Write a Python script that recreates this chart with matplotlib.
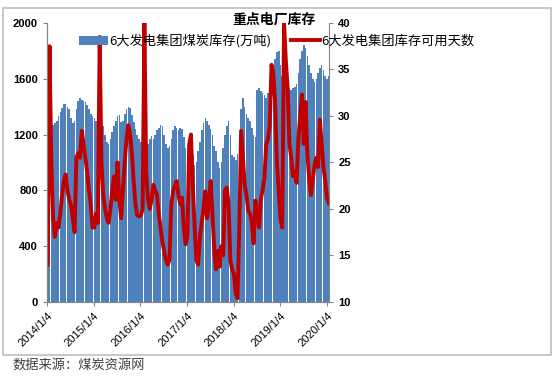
import matplotlib
matplotlib.use("Agg")
import matplotlib.pyplot as plt
import pandas as pd
from matplotlib.patches import Rectangle

plt.rcParams['font.family'] = ['Noto Sans CJK SC', 'DejaVu Sans']

# 6大发电集团煤炭库存(万吨), biweekly from 2014/1/4
stock = [
    1180, 1250, 1260, 1270, 1280, 1300, 1330, 1360, 1390, 1420, 1420, 1400, 1380,
    1320, 1280, 1300, 1380, 1440, 1460, 1450, 1440, 1430, 1410, 1380, 1350, 1330,  # 2014
    1320, 1300, 1330, 1340, 1300, 1260, 1200, 1150, 1130, 1170, 1220, 1260, 1300,
    1330, 1340, 1290, 1300, 1350, 1380, 1400, 1390, 1340, 1290, 1240, 1200, 1170,  # 2015
    1150, 1140, 1120, 1100, 1130, 1170, 1190, 1170, 1200, 1230, 1250, 1270, 1260,
    1200, 1130, 1100, 1120, 1170, 1230, 1260, 1250, 1230, 1250, 1240, 1180, 1100,  # 2016
    1060, 1000, 1150, 1050, 980, 1000, 1080, 1150, 1230, 1280, 1320, 1300, 1270,
    1240, 1200, 1120, 1080, 1000, 960, 1000, 1100, 1200, 1260, 1300, 1200, 1050,  # 2017
    1040, 1020, 1060, 1200, 1380, 1460, 1400, 1350, 1320, 1300, 1250, 1200, 1180,
    1520, 1530, 1510, 1500, 1480, 1460, 1500, 1600, 1650, 1700, 1740, 1790, 1800,  # 2018
    1700, 1620, 1580, 1560, 1550, 1530, 1520, 1530, 1540, 1560, 1640, 1740, 1800,
    1840, 1820, 1760, 1700, 1640, 1600, 1580, 1600, 1640, 1680, 1700, 1660, 1620,  # 2019
    1600, 1620,  # 2020
]

# 6大发电集团库存可用天数
days = [
    14, 37.5, 25, 19, 17, 18.5, 18, 19.5, 21.5, 23, 23.7, 22, 21,
    20.4, 19, 17.5, 25.5, 26, 25.5, 28.4, 27, 25.5, 24, 22, 20.5, 18,  # 2014
    18, 19.5, 18.5, 38.5, 25, 21.5, 20, 19, 18.5, 20, 22, 23.5, 21,
    25, 21, 19, 22, 25, 27.5, 29, 28, 26, 23, 20.5, 19.3, 19.2,  # 2015
    19.3, 20, 40, 24, 21, 20, 21, 22.6, 22, 21.5, 19.5, 18, 16.5,
    15.5, 14.5, 14, 14.5, 20.4, 21.9, 22.5, 23, 21.5, 20.5, 21.2, 18, 16.2,  # 2016
    17, 26.9, 28, 22.6, 18.3, 14.5, 14, 17, 18.5, 20, 21.9, 19, 20.5,
    23, 19.5, 15.8, 13.5, 15.5, 13.8, 16, 15, 22, 22.3, 20.5, 14.5, 13.5,  # 2017
    13, 11, 10.4, 18, 28.4, 25.5, 22.6, 21.5, 19.8, 19.5, 18.5, 16.3, 20.9,
    19.5, 18, 21, 22, 23.3, 26.9, 27.5, 29, 35.5, 34.5, 31.5, 25, 22,  # 2018
    19, 18, 40, 36, 33, 27, 25.5, 23.5, 24, 22.8, 27.5, 30, 32.3,
    27, 31.5, 26, 23.3, 21.5, 23, 24.7, 25.5, 24.5, 29.6, 27, 24.5, 23,  # 2019
    21.2, 20.6,  # 2020
]

dates = pd.date_range('2014-01-04', periods=len(stock), freq='14D')
tick_dates = pd.to_datetime(['2014-01-04', '2015-01-04', '2016-01-04', '2017-01-04',
                             '2018-01-04', '2019-01-04', '2020-01-04'])
tick_labels = ['2014/1/4', '2015/1/4', '2016/1/4', '2017/1/4',
               '2018/1/4', '2019/1/4', '2020/1/4']

fig = plt.figure(figsize=(5.54, 3.76), dpi=100)
fig.patches.append(Rectangle((0.0054, 0.056), 0.989, 0.923, transform=fig.transFigure,
                             fill=False, edgecolor='#bfbfbf', lw=1.2))

ax = fig.add_axes([0.0848, 0.197, 0.5094, 0.742])
ax2 = ax.twinx()

b = ax.bar(dates, stock, width=12.5, align='edge', color='#4f81bd', linewidth=0,
           label='6大发电集团煤炭库存(万吨)')
l, = ax2.plot(dates + pd.Timedelta(days=6), days, color='#c00000', lw=2.8,
              label='6大发电集团库存可用天数')

ax.set_ylim(0, 2000)
ax.set_yticks(range(0, 2001, 400))
ax2.set_ylim(10, 40)
ax2.set_yticks(range(10, 41, 5))
ax.set_xlim(pd.Timestamp('2014-01-04'), pd.Timestamp('2020-01-20'))
ax.set_xticks(tick_dates)
ax.set_xticklabels(tick_labels, rotation=45, ha='right', rotation_mode='anchor',
                   family='Liberation Sans', fontsize=8)

for a in (ax, ax2):
    for s in a.spines.values():
        s.set_color('#868686')
    a.spines['top'].set_visible(False)
    a.tick_params(colors='#868686', labelcolor='black', length=3, width=0.8)
ax.spines['right'].set_visible(False)
for t in ax.get_yticklabels() + ax2.get_yticklabels():
    t.set_family('Liberation Sans')
    t.set_fontweight('bold')
    t.set_fontsize(8)

fig.text(0.495, 0.949, '重点电厂库存', ha='center', va='center', fontsize=10, fontweight='bold')
fig.legend(handles=[b, l], loc='center', bbox_to_anchor=(0.5, 0.891), ncol=2, frameon=False,
           fontsize=9.5, handlelength=2.2, handletextpad=0.1, columnspacing=1.5,
           borderaxespad=0)
fig.text(0.022, 0.03, '数据来源：煤炭资源网', ha='left', va='center', fontsize=9.5, color='#404040')

fig.savefig('out.png', dpi=100)
